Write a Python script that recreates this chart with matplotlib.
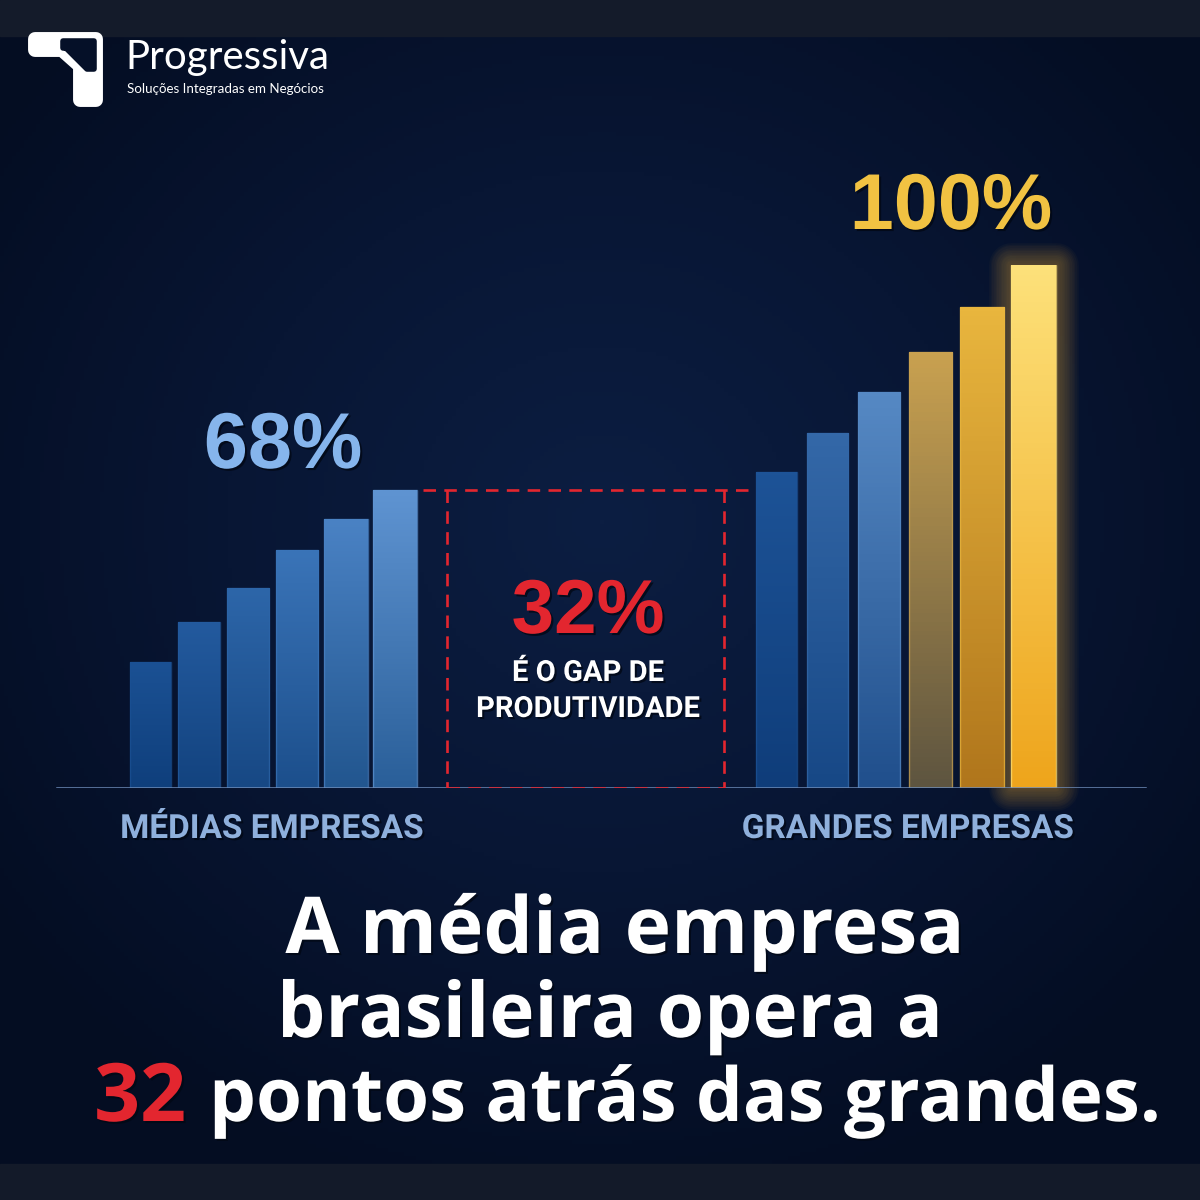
import matplotlib.pyplot as plt
import numpy as np
from matplotlib.colors import LinearSegmentedColormap
from matplotlib.patches import Polygon, Rectangle
import matplotlib.patheffects as pe

plt.rcParams['lines.scale_dashes'] = False

# ---------------- data ----------------
# bar heights as % of the tallest bar
medias_vals = [24.1, 31.7, 38.2, 45.5, 51.4, 57.0]
grandes_vals = [60.4, 67.9, 75.7, 83.4, 92.0, 100.0]
medias_label = '68%'
grandes_label = '100%'
gap_label = '32%'
gap_text = ['É O GAP DE', 'PRODUTIVIDADE']
group_names = ['MÉDIAS EMPRESAS', 'GRANDES EMPRESAS']
headline = ['A média empresa', 'brasileira opera a']
headline_last = ['32', 'pontos atrás das grandes.']

# colours (bottom, top) of each bar gradient
medias_cols = [('#0f3f7c', '#1b5194'), ('#13437f', '#235a9e'), ('#174884', '#2d66a9'),
               ('#1c4f8c', '#3a74b8'), ('#22568f', '#4a82c4'), ('#2a5f99', '#5f94d2')]
grandes_cols = [('#0f3d7a', '#1d5397'), ('#174886', '#3468a8'), ('#204f8c', '#5689c4'),
                ('#5e5540', '#c9a150'), ('#b0761c', '#e9b63e'), ('#eea51c', '#fde17a')]

W = 1200
base_px = 788
full_px = 523

fig = plt.figure(figsize=(12, 12), dpi=100)

# background axes in pixel coordinates
bg = fig.add_axes([0, 0, 1, 1])
bg.set_xlim(0, W)
bg.set_ylim(W, 0)
bg.axis('off')
yy, xx = np.mgrid[0:W:4, 0:W:4]
r = np.sqrt(((xx - 600) / 750.0) ** 2 + ((yy - 520) / 700.0) ** 2)
bgmap = LinearSegmentedColormap.from_list('bg', ['#0c1e42', '#081634', '#040d22'])
bg.imshow(np.clip(r, 0, 1), cmap=bgmap, extent=[0, W, W, 0], aspect='auto', zorder=0)
bg.add_patch(Rectangle((0, 0), W, 36, color='#141b2a', zorder=1))
bg.add_patch(Rectangle((0, 1164), W, 36, color='#131a29', zorder=1))

# logo
logo = Polygon([(35, 39), (96, 39), (96, 100), (80, 100), (80, 66), (62, 50), (35, 50)],
               closed=True, facecolor='white', edgecolor='white', linewidth=10,
               joinstyle='round', zorder=2)
bg.add_patch(logo)
notch = Polygon([(63, 41), (94, 41), (94, 69), (87, 69), (66, 48), (63, 48)],
                closed=True, facecolor='#051028', edgecolor='#051028', linewidth=4,
                joinstyle='round', zorder=3)
bg.add_patch(notch)
bg.text(125, 69, 'Progressiva', color='white', fontsize=29, family='Lato',
        ha='left', va='baseline', zorder=3)
bg.text(127, 93, 'Soluções Integradas em Negócios', color='white', fontsize=9.6,
        family='Lato', ha='left', va='baseline', zorder=3)

# chart axes: baseline at y=788 px, 100 % at y=265 px
ax = fig.add_axes([0, (W - base_px) / W, 1, full_px / W])
ax.set_xlim(0, W)
ax.set_ylim(0, 100)
ax.axis('off')
ax.patch.set_alpha(0)

left_x = 150 + 49 * np.arange(6)
right_x = 776 + 51.5 * np.arange(6)
left_w = np.linspace(41, 44, 6)
right_w = np.linspace(41, 45, 6)


def grad_bars(xs, vals, widths, cols):
    bars = ax.bar(xs, vals, width=widths, color='none', zorder=3)
    for b, (c0, c1) in zip(bars, cols):
        cm = LinearSegmentedColormap.from_list('g', [c0, c1])
        g = np.linspace(0, 1, 100).reshape(-1, 1)
        x0 = b.get_x()
        im = ax.imshow(g, cmap=cm, origin='lower', aspect='auto', zorder=3,
                       extent=[x0, x0 + b.get_width(), 0, b.get_height()])
        im.set_clip_path(b)
        ax.add_patch(Rectangle((x0, 0), b.get_width(), b.get_height(), fill=False,
                               edgecolor=c1, linewidth=1, alpha=0.7, zorder=4))
    return bars


# soft glow behind the tallest gold bar
for k in range(14):
    ax.bar(right_x[-1], grandes_vals[-1], width=right_w[-1], color='none',
           edgecolor='#f5b530', linewidth=1 + 2.4 * k, alpha=0.032, zorder=2,
           clip_on=False, joinstyle='round')

grad_bars(left_x, medias_vals, left_w, medias_cols)
grad_bars(right_x, grandes_vals, right_w, grandes_cols)

# baseline
ax.plot([57, 1145], [0, 0], color='#6d8bb8', linewidth=1.8, zorder=5)

# dashed gap box
top = medias_vals[-1]
dash = dict(color='#e3262f', linewidth=1.9, dashes=(9, 6), zorder=6)
ax.plot([423, 752], [top, top], **dash)
ax.plot([447, 447], [top, 0], **dash)
ax.plot([724, 724], [top, 0], **dash)
ax.plot([447, 724], [0, 0], **dash)

# value labels
shadow = [pe.withSimplePatchShadow(offset=(1.5, -1.5), shadow_rgbFace='#020815', alpha=0.8)]
bg.text(283, 468, medias_label, color='#86b5ec', fontsize=57, fontweight='bold',
        family='Liberation Sans', ha='center', va='baseline', zorder=7, path_effects=shadow)
bg.text(951, 229, grandes_label, color='#f1c242', fontsize=57, fontweight='bold',
        family='Liberation Sans', ha='center', va='baseline', zorder=7, path_effects=shadow)
bg.text(588, 633, gap_label, color='#e3262f', fontsize=55, fontweight='bold',
        family='Liberation Sans', ha='center', va='baseline', zorder=7, path_effects=shadow)
for i, s in enumerate(gap_text):
    bg.text(588, 681 + 36 * i, s, color='white', fontsize=21, fontweight='bold',
            family='Roboto', ha='center', va='baseline', zorder=7, path_effects=shadow)

# group names
bg.text(272, 838, group_names[0], color='#8fb0dc', fontsize=24, fontweight='bold',
        family='Roboto', ha='center', va='baseline', zorder=7, path_effects=shadow)
bg.text(908, 838, group_names[1], color='#8fb0dc', fontsize=24, fontweight='bold',
        family='Roboto', ha='center', va='baseline', zorder=7, path_effects=shadow)

# headline
hfont = dict(color='white', fontweight='bold', family='Open Sans',
             va='baseline', zorder=7, path_effects=shadow)
bg.text(625, 953, headline[0], ha='center', fontsize=56.5, **hfont)
bg.text(610, 1037, headline[1], ha='center', fontsize=55, **hfont)
bg.text(186, 1121, headline_last[0], ha='right', fontsize=58, **dict(hfont, color='#e3262f'))
bg.text(209, 1121, headline_last[1], ha='left', fontsize=53.5, **hfont)

fig.savefig('out.png', dpi=100, facecolor='#081634')
